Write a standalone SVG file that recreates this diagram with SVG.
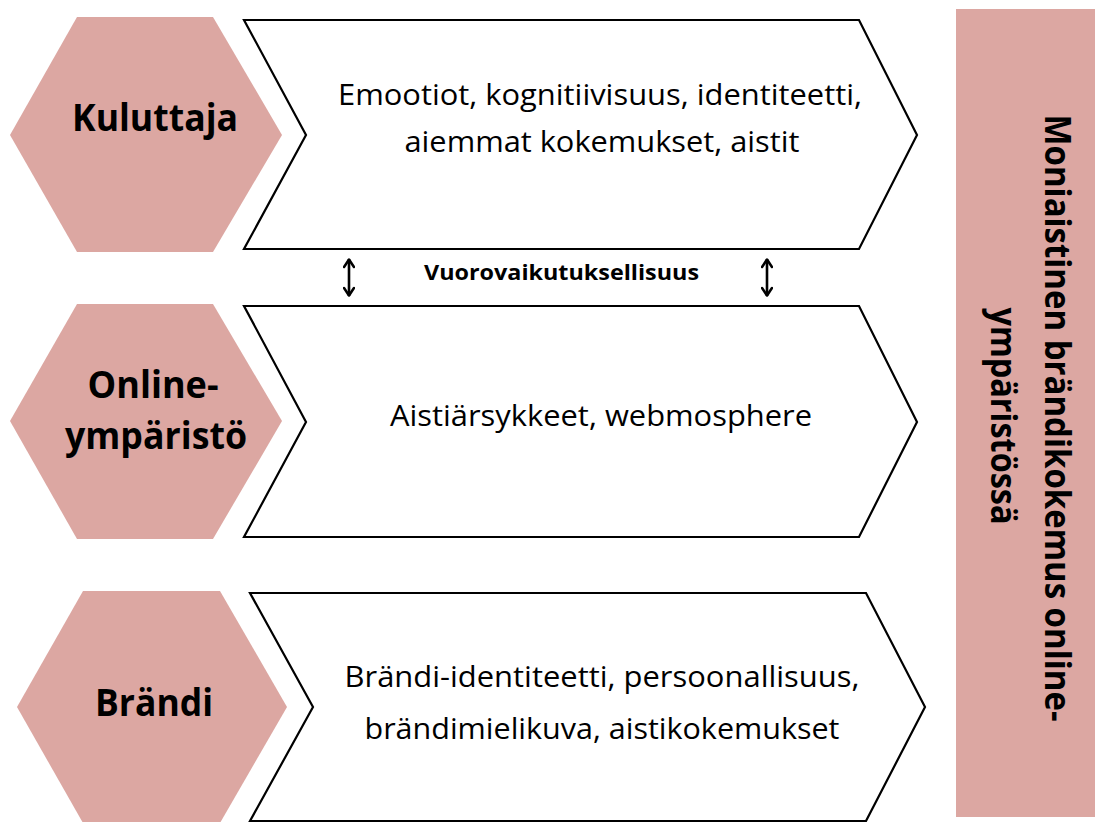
<svg xmlns="http://www.w3.org/2000/svg" width="1096" height="822" viewBox="0 0 1096 822">
<defs>
<style>
.hex{fill:#DCA7A2;stroke:none}
.chev{fill:#ffffff;stroke:#000000;stroke-width:2.2;stroke-linejoin:miter}
.lbl{font-family:"Open Sans","Liberation Sans",sans-serif;font-weight:bold;fill:#000;text-anchor:middle}
.body{font-family:"Open Sans","Liberation Sans",sans-serif;fill:#000;font-size:29px;text-anchor:middle}
.conn{stroke:#000;stroke-width:2.6;fill:none}
</style>
<marker id="ah" viewBox="0 0 12 12" refX="10.5" refY="6" markerWidth="12" markerHeight="12" markerUnits="userSpaceOnUse" orient="auto-start-reverse">
<path d="M2.5,1 L10,6 L2.5,11" fill="none" stroke="#000" stroke-width="2.6" stroke-linecap="round" stroke-linejoin="round"/>
</marker>
</defs>
<rect width="1096" height="822" fill="#ffffff"/>

<g id="bar">
<rect x="956" y="9" width="139" height="808" class="hex"/>
<text class="lbl" font-size="36" transform="translate(1045,418) rotate(90)" x="0" y="0" textLength="607" lengthAdjust="spacingAndGlyphs">Moniaistinen brändikokemus online-</text>
<text class="lbl" font-size="36" transform="translate(991,416) rotate(90)" x="0" y="0" textLength="217" lengthAdjust="spacingAndGlyphs">ympäristössä</text>
</g>

<g id="kuluttaja">
<polygon class="hex" points="77,17 213,17 282,135 213,252 77,252 10,135"/>
<text class="lbl" font-size="38" x="155" y="131" textLength="166" lengthAdjust="spacingAndGlyphs">Kuluttaja</text>
</g>
<g id="kuluttaja-tekijat">
<polygon class="chev" points="244,20 859,20 917,135 859,249 244,249 306,135"/>
<text class="body" x="600" y="105" textLength="524" lengthAdjust="spacingAndGlyphs">Emootiot, kognitiivisuus, identiteetti,</text>
<text class="body" x="602" y="152" textLength="395" lengthAdjust="spacingAndGlyphs">aiemmat kokemukset, aistit</text>
</g>

<g id="online">
<polygon class="hex" points="77,304 213,304 282,421 213,539 77,539 10,421"/>
<text class="lbl" font-size="37" x="153" y="398" textLength="131" lengthAdjust="spacingAndGlyphs">Online-</text>
<text class="lbl" font-size="37" x="156" y="449" textLength="182" lengthAdjust="spacingAndGlyphs">ympäristö</text>
</g>
<g id="online-tekijat">
<polygon class="chev" points="244,306 859,306 917,422 859,537 244,537 306,422"/>
<text class="body" x="601" y="426" textLength="422" lengthAdjust="spacingAndGlyphs">Aistiärsykkeet, webmosphere</text>
</g>

<g id="brandi">
<polygon class="hex" points="83,591 220,591 287,707 220,823 83,823 17,707"/>
<text class="lbl" font-size="38" x="154" y="716" textLength="118" lengthAdjust="spacingAndGlyphs">Brändi</text>
</g>
<g id="brandi-tekijat">
<polygon class="chev" points="250,593 866,593 925,707 866,821 250,821 313,707"/>
<text class="body" x="602" y="687" textLength="515" lengthAdjust="spacingAndGlyphs">Brändi-identiteetti, persoonallisuus,</text>
<text class="body" x="602" y="739" textLength="475" lengthAdjust="spacingAndGlyphs">brändimielikuva, aistikokemukset</text>
</g>

<g id="connectors">
<line class="conn" x1="349" y1="259" x2="349" y2="296" marker-start="url(#ah)" marker-end="url(#ah)"/>
<line class="conn" x1="767" y1="259" x2="767" y2="296" marker-start="url(#ah)" marker-end="url(#ah)"/>
<text class="lbl" font-size="22" x="561.5" y="280" textLength="275" lengthAdjust="spacingAndGlyphs">Vuorovaikutuksellisuus</text>
</g>
</svg>
